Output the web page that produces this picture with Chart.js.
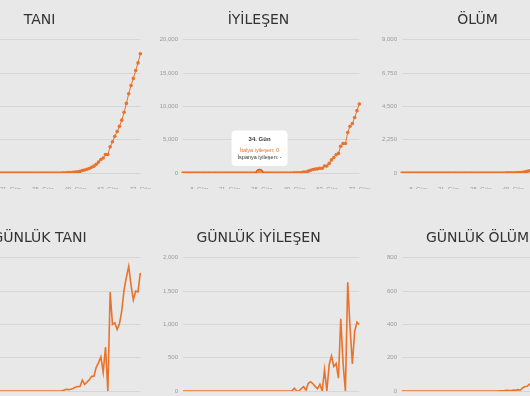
<!DOCTYPE html>
<html>
<head>
<meta charset="utf-8">
<script src="https://cdn.jsdelivr.net/npm/chart.js@4"></script>
<style>
    body { margin: 0; background: #e8e8e8; }
    #wrap { position: relative; width: 530px; height: 396px; overflow: hidden; }
    #wrap canvas { position: absolute; }
</style>
</head>
<body>
<div id="wrap"></div>
<script>
// Gün etiketleri
const days = [
    '1. Gün', '2. Gün', '3. Gün', '4. Gün', '5. Gün', '6. Gün', '7. Gün', '8. Gün', '9. Gün', '10. Gün',
    '11. Gün', '12. Gün', '13. Gün', '14. Gün', '15. Gün', '16. Gün', '17. Gün', '18. Gün', '19. Gün', '20. Gün',
    '21. Gün', '22. Gün', '23. Gün', '24. Gün', '25. Gün', '26. Gün', '27. Gün', '28. Gün', '29. Gün', '30. Gün',
    '31. Gün', '32. Gün', '33. Gün', '34. Gün', '35. Gün', '36. Gün', '37. Gün', '38. Gün', '39. Gün', '40. Gün',
    '41. Gün', '42. Gün', '43. Gün', '44. Gün', '45. Gün', '46. Gün', '47. Gün', '48. Gün', '49. Gün', '50. Gün',
    '51. Gün', '52. Gün', '53. Gün', '54. Gün', '55. Gün', '56. Gün', '57. Gün', '58. Gün', '59. Gün', '60. Gün',
    '61. Gün', '62. Gün', '63. Gün', '64. Gün', '65. Gün', '66. Gün', '67. Gün', '68. Gün', '69. Gün', '70. Gün',
    '71. Gün', '72. Gün', '73. Gün', '74. Gün', '75. Gün', '76. Gün', '77. Gün'
];
const shownDays = ['8. Gün', '21. Gün', '35. Gün', '49. Gün', '63. Gün', '77. Gün'];

const titles = ['TANI', 'İYİLEŞEN', 'ÖLÜM', 'GÜNLÜK TANI', 'GÜNLÜK İYİLEŞEN', 'GÜNLÜK ÖLÜM'];
const kinds = ['tanı', 'iyileşen', 'ölüm', 'tanı', 'iyileşen', 'ölüm'];
const yMax = [90000, 20000, 9000, 7000, 2000, 800];

// İtalya verileri
const tani = [
    0, 0, 0, 0, 0, 0, 0, 0, 0, 0,
    0, 0, 0, 0, 0, 0, 0, 0, 0, 0,
    0, 2, 2, 2, 2, 2, 2, 2, 3, 3,
    3, 3, 3, 3, 3, 3, 3, 3, 3, 3,
    3, 3, 20, 62, 155, 229, 322, 453, 655, 888,
    1128, 1694, 2036, 2502, 3089, 3858, 4636, 5883, 7375, 9172,
    10149, 12462, 12462, 17660, 21157, 24747, 27980, 31506, 35713, 41035,
    47021, 53578, 59138, 63927, 69176, 74386, 80589
];
const iyilesen = [
    0, 0, 0, 0, 0, 0, 0, 0, 0, 0,
    0, 0, 0, 0, 0, 0, 0, 0, 0, 0,
    0, 0, 0, 0, 0, 0, 0, 0, 0, 0,
    0, 0, 0, 0, 0, 0, 0, 0, 0, 0,
    0, 0, 0, 1, 2, 1, 1, 3, 45, 46,
    46, 83, 149, 160, 276, 414, 523, 589, 622, 724,
    724, 1045, 1045, 1439, 1966, 2335, 2749, 2941, 4025, 4440,
    4440, 6072, 7024, 7432, 8326, 9362, 10361
];
const olum = [
    0, 0, 0, 0, 0, 0, 0, 0, 0, 0,
    0, 0, 0, 0, 0, 0, 0, 0, 0, 0,
    0, 0, 0, 0, 0, 0, 0, 0, 0, 0,
    0, 0, 0, 0, 0, 0, 0, 0, 0, 0,
    0, 0, 1, 2, 3, 7, 10, 12, 17, 21,
    29, 34, 52, 79, 107, 148, 197, 233, 366, 463,
    631, 827, 827, 1266, 1441, 1809, 2158, 2503, 2978, 3405,
    4032, 4825, 5476, 6077, 6820, 7503, 8215
];
const gunlukTani = [
    0, 0, 0, 0, 0, 0, 0, 0, 0, 0,
    0, 0, 0, 0, 0, 0, 0, 0, 0, 0,
    0, 2, 0, 0, 0, 0, 0, 0, 1, 0,
    0, 0, 0, 0, 0, 0, 0, 0, 0, 0,
    0, 0, 17, 42, 93, 74, 93, 131, 202, 233,
    240, 566, 342, 466, 587, 769, 778, 1247, 1492, 1797,
    977, 2313, 0, 5198, 3497, 3590, 3233, 3526, 4207, 5322,
    5986, 6557, 5560, 4789, 5249, 5210, 6203
];
const gunlukIyilesen = [
    0, 0, 0, 0, 0, 0, 0, 0, 0, 0,
    0, 0, 0, 0, 0, 0, 0, 0, 0, 0,
    0, 0, 0, 0, 0, 0, 0, 0, 0, 0,
    0, 0, 0, 0, 0, 0, 0, 0, 0, 0,
    0, 0, 0, 1, 1, 0, 0, 2, 42, 1,
    0, 37, 66, 11, 116, 138, 109, 66, 33, 102,
    0, 321, 0, 394, 527, 369, 414, 192, 1084, 415,
    0, 1632, 952, 408, 894, 1036, 999
];
const gunlukOlum = [
    0, 0, 0, 0, 0, 0, 0, 0, 0, 0,
    0, 0, 0, 0, 0, 0, 0, 0, 0, 0,
    0, 0, 0, 0, 0, 0, 0, 0, 0, 0,
    0, 0, 0, 0, 0, 0, 0, 0, 0, 0,
    0, 0, 1, 1, 1, 4, 3, 2, 5, 4,
    8, 5, 18, 27, 28, 41, 49, 36, 133, 97,
    168, 196, 0, 439, 175, 368, 349, 345, 475, 427,
    627, 793, 651, 601, 743, 683, 712
];

const series = [tani, iyilesen, olum, gunlukTani, gunlukIyilesen, gunlukOlum];

const colors = {
    line: '#e8732c',
    grid: '#d6d6d6',
    tick: '#9a9a9a',
    title: '#333333'
};

// grid layout (the screenshot is cut on both sides)
const colLeft = [-64, 155, 374];
const rowTop = [0, 218];
const W = 220, H = 189;

const wrap = document.getElementById('wrap');
const charts = [];

series.forEach((data, i) => {
    const canvas = document.createElement('canvas');
    canvas.width = W;
    canvas.height = H;
    canvas.style.left = colLeft[i % 3] + 'px';
    canvas.style.top = rowTop[Math.floor(i / 3)] + 'px';
    wrap.appendChild(canvas);

    const cumulative = i < 3;

    charts.push(new Chart(canvas.getContext('2d'), {
        type: 'line',
        data: {
            labels: days,
            datasets: [{
                label: 'İtalya',
                data: data,
                borderColor: colors.line,
                backgroundColor: colors.line,
                borderWidth: cumulative ? 1 : 1.6,
                tension: 0,
                pointRadius: cumulative ? 1.8 : 0,
                pointBorderWidth: 0,
                pointBackgroundColor: colors.line,
                pointHoverRadius: 3.5,
                pointHoverBorderWidth: 1.5,
                pointHoverBackgroundColor: '#f08a4a',
                pointHoverBorderColor: '#d8601c'
            }]
        },
        options: {
            responsive: false,
            animation: false,
            layout: { padding: { left: 0, right: 13, top: 0, bottom: 0 } },
            interaction: { mode: 'index', intersect: false },
            plugins: {
                legend: { display: false },
                title: {
                    display: true,
                    text: titles[i],
                    color: colors.title,
                    font: { family: 'DejaVu Sans', size: 14, weight: 'normal' },
                    padding: { top: 12, bottom: 11 }
                },
                tooltip: {
                    backgroundColor: '#ffffff',
                    titleColor: '#333333',
                    bodyColor: colors.line,
                    footerColor: '#333333',
                    titleFont: { family: 'Liberation Sans', size: 6, weight: 'bold' },
                    bodyFont: { family: 'Liberation Sans', size: 5.5 },
                    footerFont: { family: 'Liberation Sans', size: 5.5, weight: 'normal' },
                    titleAlign: 'center',
                    bodyAlign: 'center',
                    footerAlign: 'center',
                    titleMarginBottom: 4,
                    footerMarginTop: 1,
                    padding: { top: 5, bottom: 5, left: 6, right: 6 },
                    cornerRadius: 4,
                    displayColors: false,
                    caretSize: 0,
                    caretPadding: 7,
                    yAlign: 'bottom',
                    xAlign: 'center',
                    callbacks: {
                        label: (ctx) => `${ctx.dataset.label} ${kinds[i]}: ${ctx.raw}`,
                        footer: () => `İspanya ${kinds[i]}: -`
                    }
                }
            },
            scales: {
                x: {
                    grid: { display: false },
                    border: { display: false },
                    afterFit: (scale) => { scale.height = 16; },
                    ticks: {
                        color: colors.tick,
                        font: { family: 'Liberation Sans', size: 6 },
                        padding: 5,
                        maxRotation: 0,
                        autoSkip: false,
                        callback: function (value) {
                            const lbl = this.getLabelForValue(value);
                            return shownDays.includes(lbl) ? lbl : '';
                        }
                    }
                },
                y: {
                    min: 0,
                    max: yMax[i],
                    border: { display: false },
                    grid: { color: colors.grid, drawTicks: false },
                    afterFit: (scale) => { scale.width = 28; },
                    ticks: {
                        stepSize: yMax[i] / 4,
                        color: colors.tick,
                        font: { family: 'Liberation Sans', size: 6 },
                        padding: 5,
                        callback: (v) => v.toLocaleString('en-US')
                    }
                }
            }
        }
    }));
});

// tooltip açık: İYİLEŞEN, 34. Gün
const hover = charts[1];
hover.setActiveElements([{ datasetIndex: 0, index: 33 }]);
hover.tooltip.setActiveElements([{ datasetIndex: 0, index: 33 }], { x: 0, y: 0 });
hover.update();
</script>
</body>
</html>
